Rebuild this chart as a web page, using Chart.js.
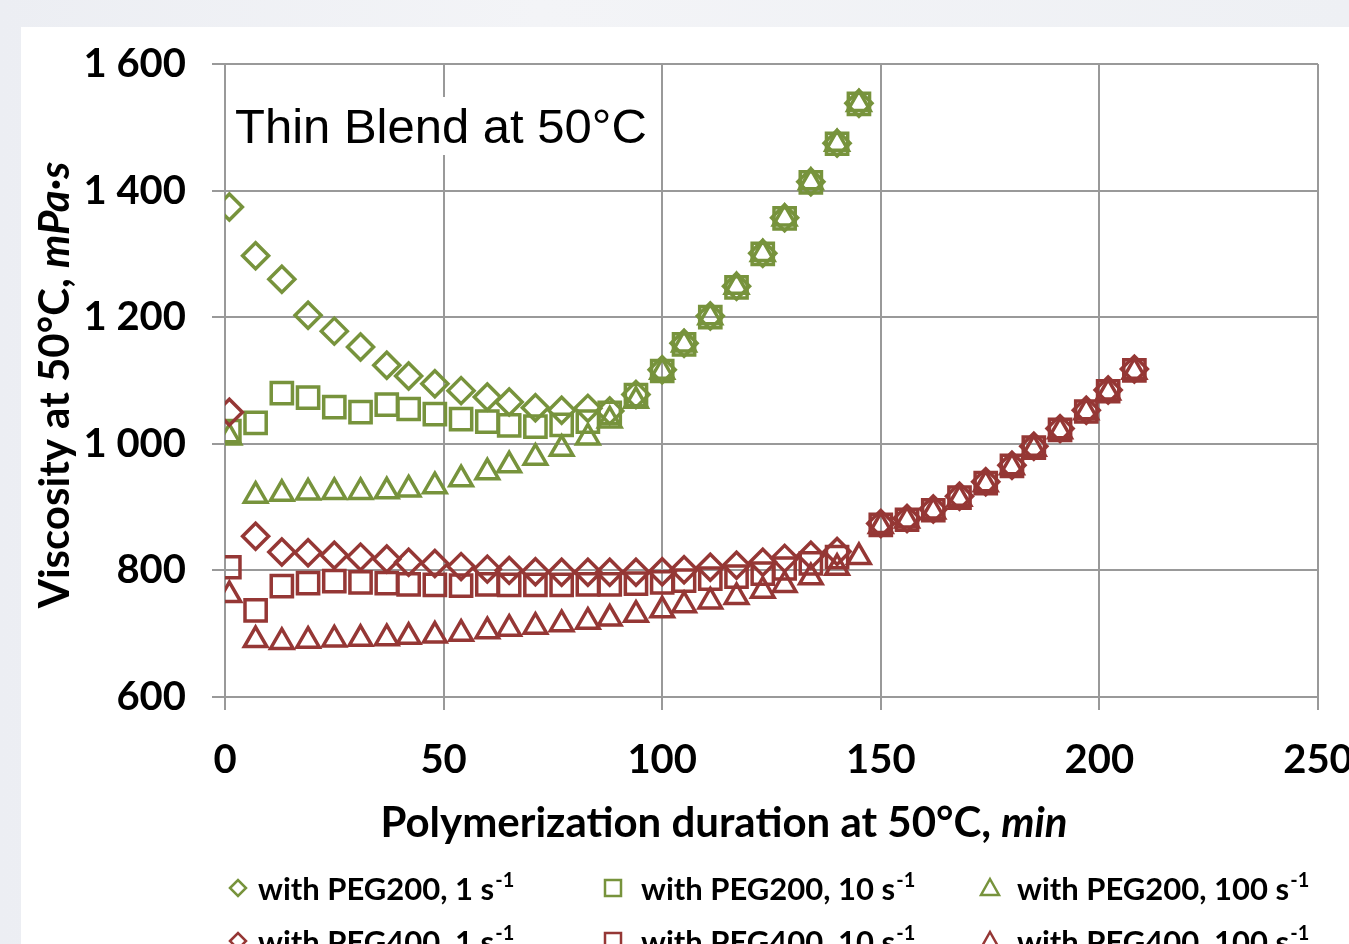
<!DOCTYPE html>
<html>
<head>
<meta charset="utf-8">
<script src="https://cdn.jsdelivr.net/npm/chart.js@4.4.1/dist/chart.umd.min.js"></script>
<style>
  html, body { margin: 0; padding: 0; width: 1349px; height: 944px; overflow: hidden; }
  body { background: linear-gradient(90deg, #eceef3 0%, #f3f4f7 40%, #eef0f4 100%); }
  #sheet { position: absolute; left: 21px; top: 27px; right: 0; bottom: 0; background: #fff; }
  #chart { position: absolute; left: 0; top: 0; }
</style>
</head>
<body>
<div id="sheet"></div>
<canvas id="chart" width="1400" height="944"></canvas>
<script>
// polymerization time, min
const peg200Minutes = [1, 7, 13, 19, 25, 31, 37, 42, 48, 54, 60, 65, 71, 77, 83, 88, 94, 100, 105, 111, 117, 123, 128, 134, 140, 145];
const peg400Minutes = [1, 7, 13, 19, 25, 31, 37, 42, 48, 54, 60, 65, 71, 77, 83, 88, 94, 100, 105, 111, 117, 123, 128, 134, 140, 145, 150, 156, 162, 168, 174, 180, 185, 191, 197, 202, 208];

// viscosity, mPa·s
const peg200Shear1 = [1374, 1297, 1260, 1203, 1178, 1153, 1124, 1107, 1095, 1084, 1074, 1066, 1057, 1053, 1056, 1052, 1078, 1117, 1159, 1202, 1249, 1301, 1357, 1414, 1475, 1538];
const peg200Shear10 = [1020, 1033, 1080, 1073, 1058, 1050, 1062, 1055, 1047, 1039, 1035, 1029, 1027, 1030, 1035, 1049, 1077, 1115, 1157, 1200, 1247, 1300, 1356, 1413, 1474, 1537];
const peg200Shear100 = [1010, 918, 921, 923, 924, 924, 925, 928, 933, 944, 955, 966, 978, 992, 1010, 1037, 1068, 1114, 1157, 1200, 1248, 1300, 1356, 1413, 1474, 1537];

const peg400Shear1 = [1050, 854, 829, 828, 824, 821, 818, 813, 811, 806, 802, 800, 798, 797, 797, 797, 797, 798, 801, 805, 808, 813, 819, 824, 830, null, 874, 882, 897, 917, 940, 966, 996, 1024, 1053, 1085, 1118];
const peg400Shear10 = [805, 737, 775, 780, 783, 781, 780, 778, 777, 776, 778, 777, 777, 777, 778, 778, 779, 781, 784, 787, 790, 795, 803, 811, 821, null, 872, 880, 895, 915, 938, 965, 994, 1022, 1051, 1083, 1116];
const peg400Shear100 = [761, 690, 687, 689, 691, 692, 693, 695, 697, 700, 704, 708, 711, 715, 719, 724, 730, 737, 745, 751, 758, 768, 777, 789, 804, 821, 870, 879, 893, 913, 936, 963, 992, 1020, 1050, 1081, 1114];

const seriesLabels = ['with PEG200, 1 s', 'with PEG200, 10 s', 'with PEG200, 100 s',
                      'with PEG400, 1 s', 'with PEG400, 10 s', 'with PEG400, 100 s'];
const yTicks = [600, 800, 1000, 1200, 1400, 1600];

const GREEN = '#77933c';
const RED = '#953735';
const FONT = 'Lato, "Open Sans", sans-serif';

const toPoints = (xs, ys) => xs.map((x, i) => ({ x: x, y: ys[i] })).filter(p => p.y !== null);

const makeSet = (i, xs, ys, color, shape, radius) => ({
  label: seriesLabels[i],
  data: toPoints(xs, ys),
  pointStyle: shape,
  pointRadius: radius,
  pointHoverRadius: radius,
  pointBorderWidth: 3.5,
  pointBorderColor: color,
  pointBackgroundColor: 'rgba(0,0,0,0)',
  borderColor: color,
  showLine: false,
  order: 5 - i
});

// inset label, axis titles and legend are drawn on the canvas
const sheetText = {
  id: 'sheetText',
  beforeDatasetsDraw(chart) {
    const ctx = chart.ctx;
    ctx.save();
    ctx.fillStyle = '#fff';
    ctx.fillRect(229, 97, 424, 58);
    ctx.fillStyle = '#000';
    ctx.font = '49px "Liberation Sans", Arial, sans-serif';
    ctx.textBaseline = 'alphabetic';
    ctx.fillText('Thin Blend at 50°C', 235, 143);
    ctx.restore();
  },
  afterDraw(chart) {
    const ctx = chart.ctx;
    ctx.save();
    ctx.fillStyle = '#000';
    ctx.textBaseline = 'alphabetic';

    // x title
    const xa = 'Polymerization duration at 50°C, ', xb = 'min';
    ctx.font = 'bold 42px ' + FONT;
    let wa = ctx.measureText(xa).width;
    ctx.font = 'italic bold 42px ' + FONT;
    let wb = ctx.measureText(xb).width;
    let sx = 724 - (wa + wb) / 2;
    ctx.font = 'bold 42px ' + FONT;
    ctx.fillText(xa, sx, 837);
    ctx.font = 'italic bold 42px ' + FONT;
    ctx.fillText(xb, sx + wa, 837);

    // y title
    const ya = 'Viscosity at 50°C, ', yb = 'mPa·s';
    ctx.translate(69, 385);
    ctx.rotate(-Math.PI / 2);
    ctx.font = 'bold 42px ' + FONT;
    wa = ctx.measureText(ya).width;
    ctx.font = 'italic bold 42px ' + FONT;
    wb = ctx.measureText(yb).width;
    sx = -(wa + wb) / 2;
    ctx.font = 'bold 42px ' + FONT;
    ctx.fillText(ya, sx, 0);
    ctx.font = 'italic bold 42px ' + FONT;
    ctx.fillText(yb, sx + wa, 0);
    ctx.setTransform(1, 0, 0, 1, 0, 0);

    // legend
    const cols = [[238, 258], [613, 641], [990, 1017]];
    const rows = [888, 941];
    chart.data.datasets.forEach((ds, i) => {
      const c = cols[i % 3], cy = rows[Math.floor(i / 3)];
      const mx = c[0];
      ctx.beginPath();
      if (ds.pointStyle === 'rectRot') {
        ctx.moveTo(mx - 8, cy); ctx.lineTo(mx, cy - 8); ctx.lineTo(mx + 8, cy); ctx.lineTo(mx, cy + 8); ctx.closePath();
      } else if (ds.pointStyle === 'rect') {
        ctx.rect(mx - 8, cy - 8, 16, 16);
      } else {
        ctx.moveTo(mx, cy - 9); ctx.lineTo(mx + 9, cy + 7); ctx.lineTo(mx - 9, cy + 7); ctx.closePath();
      }
      ctx.lineWidth = 2.5;
      ctx.strokeStyle = ds.borderColor;
      ctx.stroke();
      ctx.font = 'bold 31px ' + FONT;
      ctx.fillStyle = '#000';
      ctx.fillText(ds.label, c[1], cy + 12);
      const w = ctx.measureText(ds.label).width;
      ctx.font = 'bold 20px ' + FONT;
      ctx.fillText('-1', c[1] + w + 1, cy - 1);
    });
    ctx.restore();
  }
};

new Chart(document.getElementById('chart'), {
  type: 'scatter',
  data: {
    datasets: [
      makeSet(0, peg200Minutes, peg200Shear1, GREEN, 'rectRot', 13),
      makeSet(1, peg200Minutes, peg200Shear10, GREEN, 'rect', 15),
      makeSet(2, peg200Minutes, peg200Shear100, GREEN, 'triangle', 13),
      makeSet(3, peg400Minutes, peg400Shear1, RED, 'rectRot', 13),
      makeSet(4, peg400Minutes, peg400Shear10, RED, 'rect', 15),
      makeSet(5, peg400Minutes, peg400Shear100, RED, 'triangle', 13)
    ]
  },
  options: {
    responsive: false,
    animation: false,
    layout: { padding: { top: 64, right: 82, left: 0, bottom: 0 } },
    plugins: { legend: { display: false }, tooltip: { enabled: false } },
    scales: {
      x: {
        type: 'linear',
        min: 0, max: 250,
        afterFit: s => { s.height = 247; },
        ticks: { stepSize: 50, padding: 26, color: '#000', font: { family: FONT, size: 40, weight: 'bold' } },
        grid: { color: '#999999', lineWidth: 2, tickLength: 13, drawTicks: true },
        border: { color: '#999999', width: 2 }
      },
      y: {
        type: 'linear',
        min: 600, max: 1600,
        afterFit: s => { s.width = 225; },
        afterBuildTicks: s => { s.ticks = yTicks.map(v => ({ value: v })); },
        ticks: {
          padding: 26, color: '#000',
          font: { family: FONT, size: 40, weight: 'bold' },
          callback: v => v >= 1000 ? Math.floor(v / 1000) + ' ' + String(v % 1000).padStart(3, '0') : String(v)
        },
        grid: { color: '#999999', lineWidth: 2, tickLength: 13, drawTicks: true },
        border: { color: '#999999', width: 2 }
      }
    }
  },
  plugins: [sheetText]
});
</script>
</body>
</html>
